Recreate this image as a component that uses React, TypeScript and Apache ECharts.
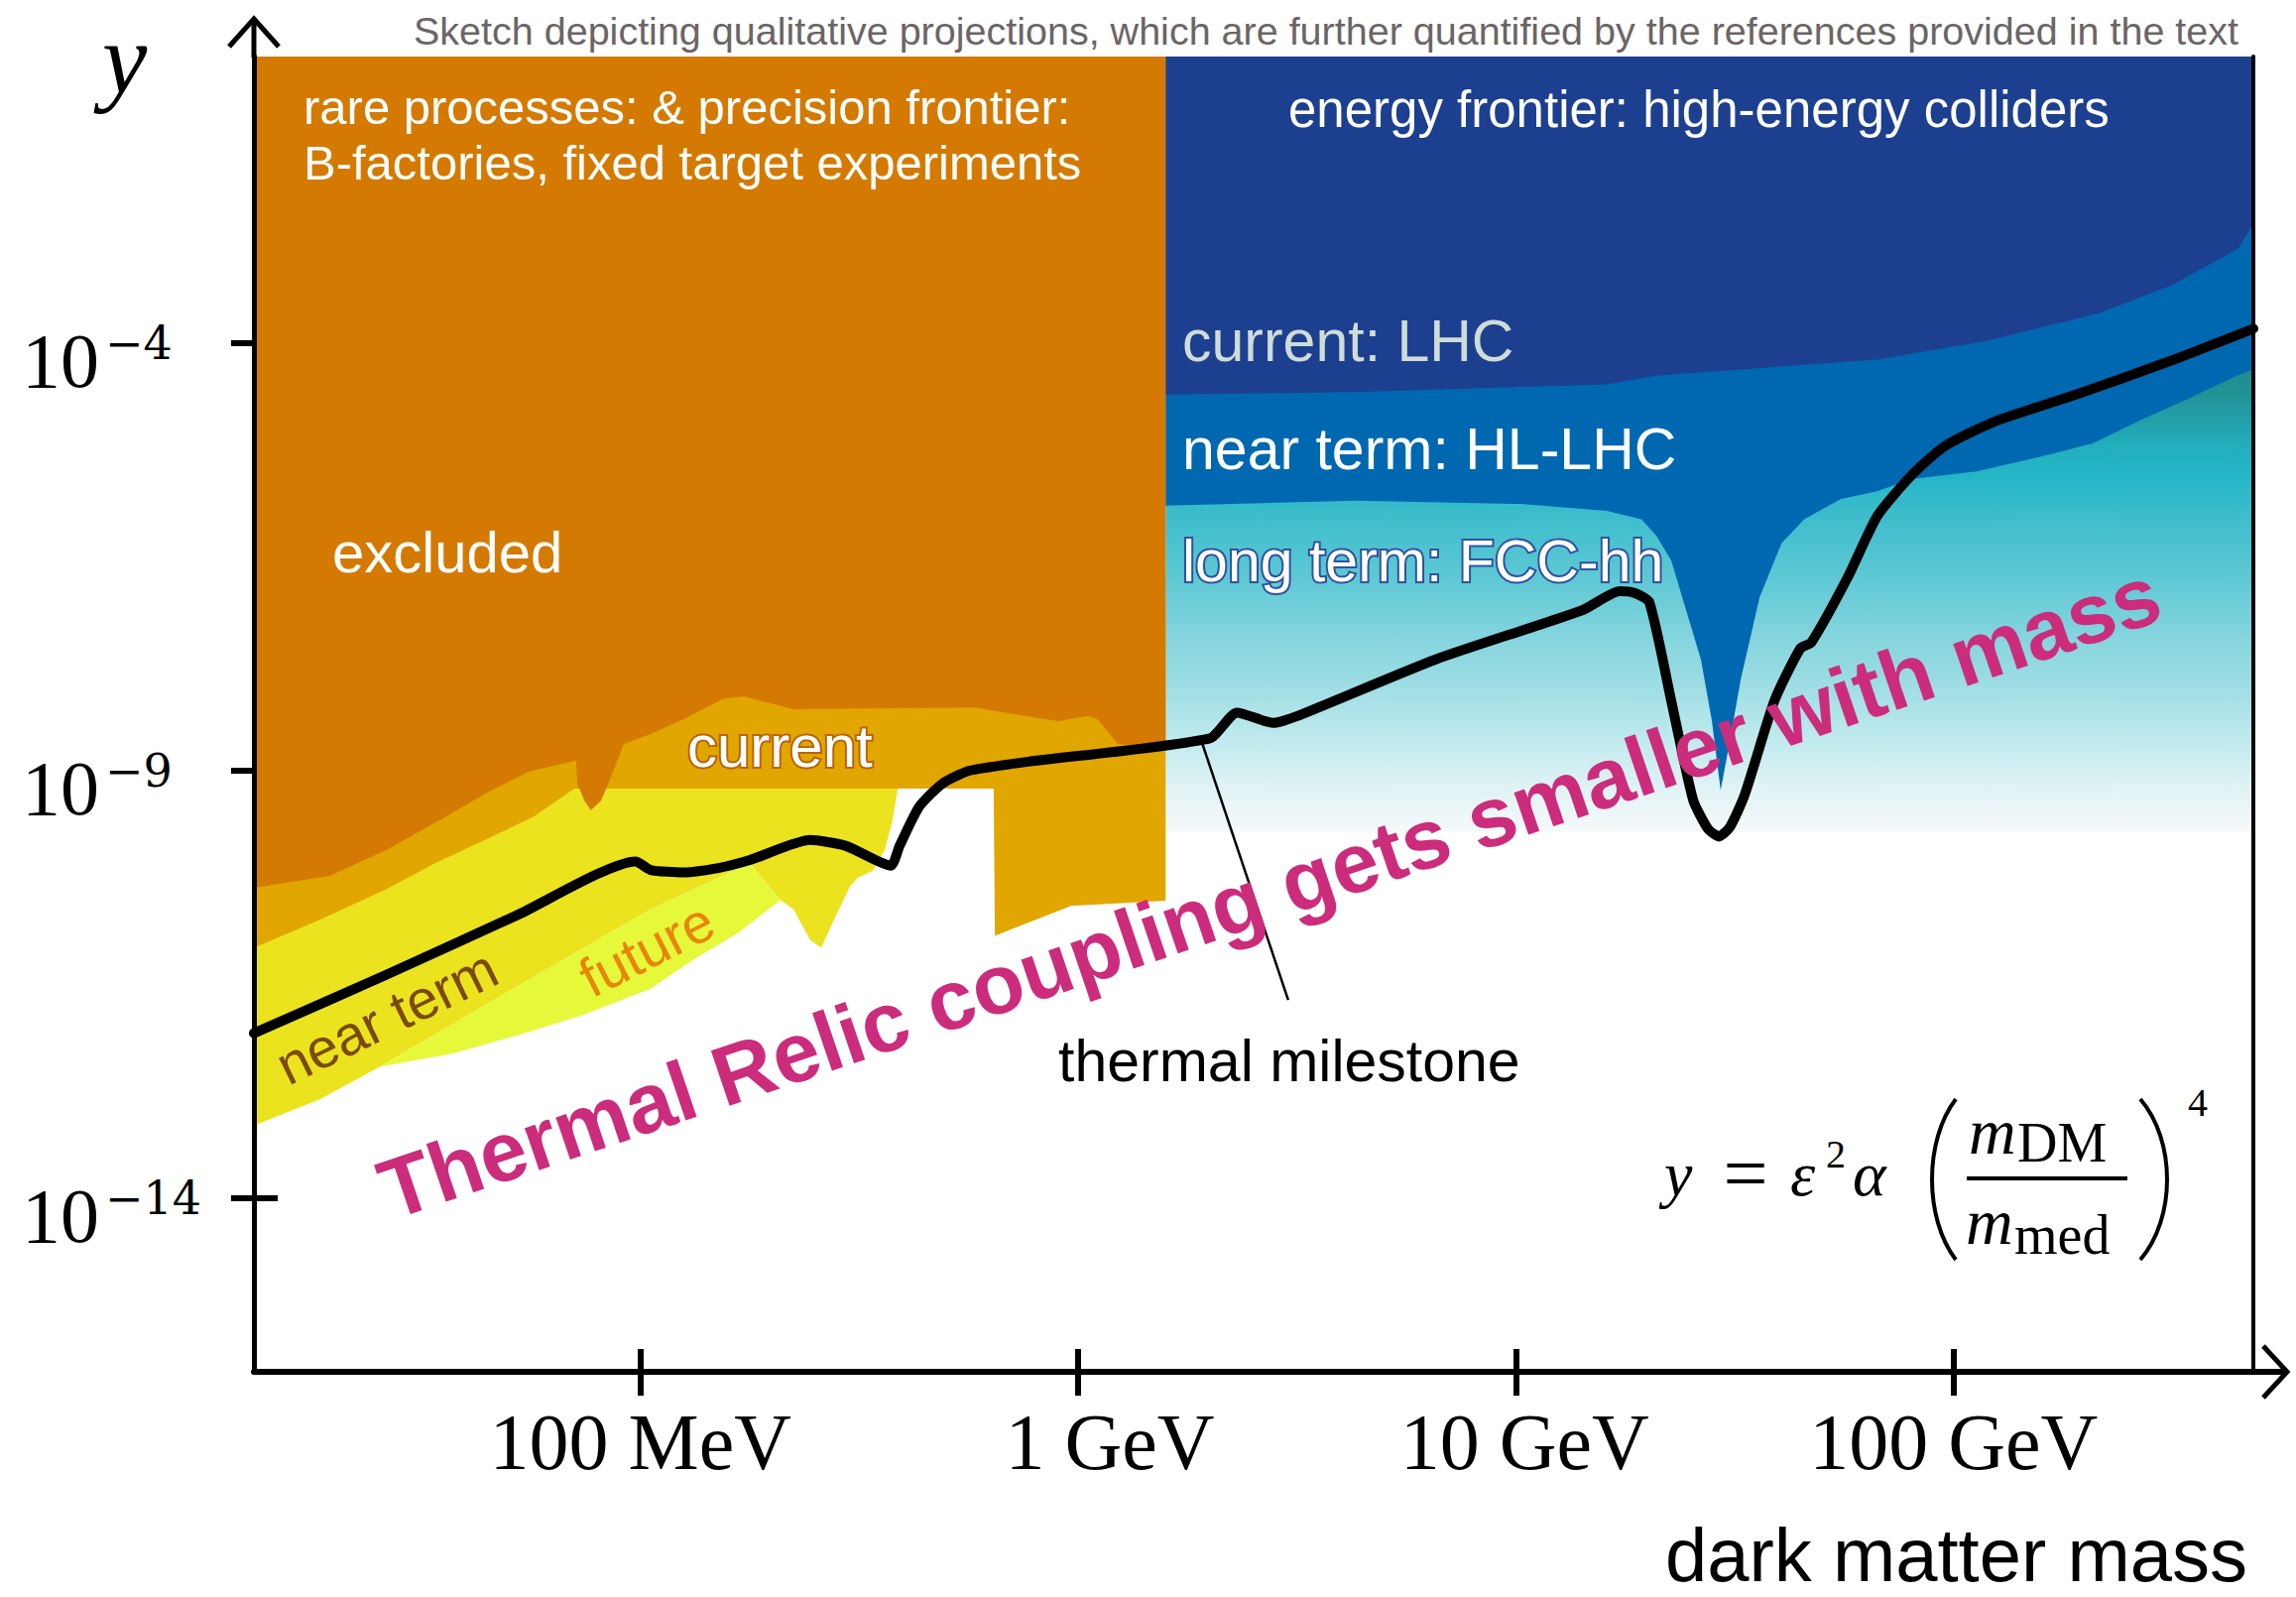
import React, { useEffect, useRef } from 'react';
import * as echarts from 'echarts';

// Coordinates: x = log10(dark matter mass / GeV), y = log10(y)
const xRange = [-1.883, 2.685];
const yRange = [-16.03, -0.647];
const xTickValues = [-1, 0, 1, 2];
const xTickLabels = ['100 MeV', '1 GeV', '10 GeV', '100 GeV'];
const yTickValues = [-14, -9, -4];

const excludedRegion: number[][] = [
  [-1.883, -0.647], [0.2, -0.647], [0.2, -8.72], [0.091, -8.69], [0.045, -8.4], [0.023, -8.36],
  [-0.045, -8.42], [-0.122, -8.36], [-0.236, -8.26], [-0.65, -8.28], [-0.764, -8.13], [-0.811, -8.16],
  [-0.902, -8.4], [-0.977, -8.57], [-1.038, -8.69], [-1.067, -9.07], [-1.09, -9.35], [-1.113, -9.46],
  [-1.128, -9.35], [-1.144, -9.15], [-1.147, -8.88], [-1.255, -9.01], [-1.355, -9.27], [-1.459, -9.58],
  [-1.582, -9.93], [-1.709, -10.23], [-1.883, -10.37],
];

const currentRegion: number[][] = [
  [-1.883, -6.95], [0.2, -6.95], [0.2, -10.52], [-0.016, -10.58], [-0.19, -10.93], [-0.193, -9.21],
  [-1.151, -9.21], [-1.242, -9.53], [-1.355, -9.81], [-1.468, -10.08], [-1.582, -10.39],
  [-1.731, -10.74], [-1.883, -11.07],
];

const nearTermRegion: number[][] = [
  [-1.883, -8.11], [-0.412, -8.11], [-0.412, -9.21], [-0.424, -9.58], [-0.442, -9.93], [-0.469, -10.17],
  [-0.503, -10.25], [-0.521, -10.35], [-0.553, -10.69], [-0.587, -11.07], [-0.612, -10.98],
  [-0.65, -10.62], [-0.68, -10.51], [-0.75, -10.08], [-0.977, -10.62], [-1.278, -11.51],
  [-1.595, -12.46], [-1.731, -12.84], [-1.883, -13.15],
];

const futureRegion: number[][] = [
  [-1.595, -12.46], [-1.43, -12.31], [-1.278, -12.09], [-1.128, -11.85], [-0.977, -11.55],
  [-0.877, -11.2], [-0.775, -10.89], [-0.68, -10.51], [-0.75, -10.08], [-0.977, -10.62], [-1.278, -11.51],
];

const fccRegion: number[][] = [[0.2, -0.647], [2.685, -0.647], [2.685, -9.73], [0.2, -9.73]];

const hlLhcRegion: number[][] = [
  [0.2, -0.647], [2.685, -0.647], [2.685, -4.3], [2.642, -4.39], [2.545, -4.63], [2.431, -4.89],
  [2.318, -5.17], [2.205, -5.32], [2.053, -5.5], [1.903, -5.59], [1.826, -5.73], [1.743, -5.82],
  [1.659, -6.06], [1.607, -6.34], [1.557, -6.97], [1.514, -7.93], [1.489, -8.65], [1.468, -9.23],
  [1.448, -8.42], [1.423, -7.7], [1.389, -7.12], [1.355, -6.54], [1.321, -6.25], [1.287, -6.06],
  [1.208, -5.96], [1.011, -5.88], [0.634, -5.84], [0.2, -5.9],
];

const lhcRegion: number[][] = [
  [0.2, -0.647], [2.685, -0.647], [2.685, -2.6], [2.651, -2.89], [2.601, -3.03], [2.499, -3.32],
  [2.332, -3.65], [2.078, -3.97], [1.826, -4.19], [1.321, -4.38], [1.208, -4.48], [1.011, -4.51],
  [0.634, -4.57], [0.2, -4.6],
];

const thermalMilestone: number[][] = [
  [-1.883, -12.07], [-1.582, -11.39], [-1.278, -10.68], [-1.011, -10.06], [-0.977, -10.16],
  [-0.902, -10.19], [-0.825, -10.14], [-0.748, -10.04], [-0.612, -9.81], [-0.53, -9.88],
  [-0.428, -10.11], [-0.408, -9.88], [-0.363, -9.42], [-0.31, -9.15], [-0.249, -9.0], [-0.122, -8.9],
  [0.301, -8.62], [0.363, -8.32], [0.446, -8.44], [0.496, -8.37], [0.816, -7.7], [1.153, -7.12],
  [1.237, -6.9], [1.271, -6.92], [1.305, -7.03], [1.355, -8.18], [1.405, -9.34], [1.439, -9.68],
  [1.464, -9.77], [1.489, -9.66], [1.523, -9.28], [1.591, -8.18], [1.65, -7.57], [1.675, -7.5],
  [1.758, -6.74], [1.826, -6.02], [1.903, -5.55], [1.978, -5.21], [2.092, -4.92], [2.28, -4.6],
  [2.499, -4.2], [2.685, -3.83],
];

const milestonePointer: number[][] = [[0.281, -8.64], [0.48, -11.68]];

const SANS = 'Liberation Sans, Arial, Helvetica, sans-serif';
const SERIF = 'Liberation Serif, Times New Roman, serif';

function polygonSeries(name: string, pts: number[][], fill: any) {
  return {
    type: 'custom',
    name,
    silent: true,
    coordinateSystem: 'cartesian2d',
    data: pts,
    renderItem: (params: any, api: any) => {
      if (params.dataIndex !== 0) return null;
      return {
        type: 'polygon',
        shape: { points: pts.map((p) => api.coord(p)) },
        style: { fill },
      };
    },
  };
}

function txt(text: string, x: number, y: number, size: number, fill: string, o: any = {}) {
  return {
    type: 'text',
    x,
    y,
    z: 50,
    silent: true,
    rotation: o.rot ? (o.rot * Math.PI) / 180 : 0,
    style: {
      text,
      fill,
      fontSize: size,
      lineHeight: o.lh || size,
      fontFamily: o.family || SANS,
      fontWeight: o.weight || 'normal',
      fontStyle: o.italic ? 'italic' : 'normal',
      align: o.align || 'left',
      verticalAlign: 'middle',
      stroke: o.stroke,
      lineWidth: o.lw || 0,
    },
  };
}

export default function App() {
  const ref = useRef<HTMLDivElement>(null);
  useEffect(() => {
    if (!ref.current) return;
    const chart = echarts.init(ref.current, undefined, { renderer: 'svg' });
    const gradient = new echarts.graphic.LinearGradient(0, 0, 0, 1, [
      { offset: 0, color: '#1b6f80' },
      { offset: 0.361, color: '#1d7f87' },
      { offset: 0.438, color: '#219497' },
      { offset: 0.502, color: '#22aebd' },
      { offset: 0.54, color: '#24b6c7' },
      { offset: 0.587, color: '#3cbccb' },
      { offset: 0.668, color: '#5cc8d4' },
      { offset: 0.757, color: '#89d6df' },
      { offset: 0.796, color: '#97dbe2' },
      { offset: 0.881, color: '#c0eaee' },
      { offset: 0.945, color: '#e2f3f5' },
      { offset: 0.996, color: '#f5f9fa' },
      { offset: 1, color: '#ffffff' },
    ]);

    const xLabelFmt = (v: number) => {
      const r = Math.round(v);
      const lbl = xTickLabels[xTickValues.indexOf(r)];
      if (r === 0) return `{p1|${lbl}}`;
      if (r === 1) return `{p2|${lbl}}`;
      return `{a|${lbl}}`;
    };
    const xRichBase = { fontFamily: SERIF, fontSize: 80, lineHeight: 80, color: '#000' };

    const option: any = {
      animation: false,
      backgroundColor: '#ffffff',
      grid: { left: 256, right: 43, top: 57, bottom: 227 },
      xAxis: [
        {
          type: 'value',
          position: 'bottom',
          min: xRange[0],
          max: xRange[1],
          z: 10,
          splitLine: { show: false },
          axisLine: { show: true, onZero: false, lineStyle: { color: '#000', width: 6 } },
          axisTick: { show: true, customValues: xTickValues, length: 24, lineStyle: { color: '#000', width: 6 } },
          axisLabel: {
            show: true,
            customValues: xTickValues,
            margin: 31,
            formatter: xLabelFmt,
            rich: {
              a: { ...xRichBase },
              p1: { ...xRichBase, padding: [0, 0, 0, 64] },
              p2: { ...xRichBase, padding: [0, 0, 0, 18] },
            },
          },
        },
        {
          type: 'value',
          position: 'bottom',
          min: xRange[0],
          max: xRange[1],
          z: 10,
          splitLine: { show: false },
          axisLine: { show: false, onZero: false },
          axisTick: { show: true, inside: true, customValues: xTickValues, length: 23, lineStyle: { color: '#000', width: 6 } },
          axisLabel: { show: false },
        },
      ],
      yAxis: [
        {
          type: 'value',
          position: 'left',
          min: yRange[0],
          max: yRange[1],
          z: 10,
          splitLine: { show: false },
          axisLine: { show: true, onZero: false, lineStyle: { color: '#000', width: 5 } },
          axisTick: { show: true, customValues: yTickValues, length: 23, lineStyle: { color: '#000', width: 6 } },
          axisLabel: {
            show: true,
            customValues: yTickValues,
            align: 'left',
            margin: 234,
            padding: [34, 0, 0, 0],
            formatter: (v: number) => `{b|10}{e|\u2212${Math.abs(Math.round(v))}}`,
            rich: {
              b: { fontFamily: SERIF, fontSize: 78, lineHeight: 80, color: '#000' },
              e: { fontFamily: 'DejaVu Serif, serif', fontSize: 46, lineHeight: 30, verticalAlign: 'top', padding: [0, 0, 0, 6], color: '#000' },
            },
          },
        },
        {
          type: 'value',
          position: 'left',
          min: yRange[0],
          max: yRange[1],
          z: 0,
          splitLine: { show: false },
          axisLine: { show: false, onZero: false },
          axisTick: { show: true, inside: true, customValues: yTickValues, length: 24, lineStyle: { color: '#000', width: 6 } },
          axisLabel: { show: false },
        },
        {
          type: 'value',
          position: 'right',
          min: yRange[0],
          max: yRange[1],
          z: 10,
          splitLine: { show: false },
          axisLine: { show: true, onZero: false, lineStyle: { color: '#000', width: 4 } },
          axisTick: { show: false },
          axisLabel: { show: false },
        },
      ],
      series: [
        polygonSeries('long term: FCC-hh', fccRegion, gradient),
        polygonSeries('near term: HL-LHC', hlLhcRegion, '#0068b0'),
        polygonSeries('current: LHC', lhcRegion, '#1d3f8f'),
        polygonSeries('near term', nearTermRegion, '#ebe31e'),
        polygonSeries('future', futureRegion, '#e6f83a'),
        polygonSeries('current', currentRegion, '#e1a600'),
        polygonSeries('excluded', excludedRegion, '#d47a03'),
        {
          type: 'line',
          name: 'pointer',
          data: milestonePointer,
          symbol: 'none',
          silent: true,
          z: 4,
          lineStyle: { color: '#000', width: 2.5 },
        },
        {
          type: 'line',
          name: 'thermal milestone',
          data: thermalMilestone,
          symbol: 'none',
          smooth: 0.2,
          silent: true,
          z: 5,
          lineStyle: { color: '#000', width: 10, cap: 'round', join: 'round' },
        },
      ],
      graphic: [
        // axis extensions and arrow heads
        { type: 'polyline', z: 40, silent: true, shape: { points: [[256, 58], [256, 20]] }, style: { stroke: '#000', lineWidth: 5, fill: null } },
        { type: 'polyline', z: 40, silent: true, shape: { points: [[231, 47], [256, 19], [281, 47]] }, style: { stroke: '#000', lineWidth: 5, fill: null } },
        { type: 'polyline', z: 40, silent: true, shape: { points: [[2271, 1383], [2304, 1383]] }, style: { stroke: '#000', lineWidth: 6, fill: null } },
        { type: 'polyline', z: 40, silent: true, shape: { points: [[2282, 1357], [2306, 1383], [2282, 1409]] }, style: { stroke: '#000', lineWidth: 5, fill: null } },
        // texts
        txt('Sketch depicting qualitative projections, which are further quantified by the references provided in the text', 2257, 31, 39.5, '#6b6565', { align: 'right', lh: 40 }),
        txt('y', 103, 58, 102, '#000', { family: SERIF, italic: true, lh: 96 }),
        txt('rare processes: & precision frontier:\nB-factories, fixed target experiments', 306, 136, 49, '#ffffff', { lh: 56 }),
        txt('energy frontier: high-energy colliders', 1299, 110, 51, '#ffffff'),
        txt('current: LHC', 1192, 344, 59, '#cfdcd8'),
        txt('near term: HL-LHC', 1192, 453, 59, '#ffffff'),
        txt('long term: FCC-hh', 1192, 566, 59, '#ffffff', { stroke: '#2f52a0', lw: 4 }),
        txt('excluded', 335, 556, 58, '#ffffff'),
        txt('current', 693, 752, 60, '#ffffff', { stroke: '#b8650a', lw: 4 }),
        txt('near term', 390, 1025, 56, '#7b4a07', { align: 'center', rot: 26 }),
        txt('future', 652, 957, 56, '#e8850b', { align: 'center', rot: 27 }),
        txt('thermal milestone', 1067, 1070, 59, '#000'),
        txt('Thermal Relic coupling gets smaller with mass', 1280, 899, 85, '#cc2c7c', { align: 'center', rot: 18.7, weight: 'bold' }),
        txt('dark matter mass', 2266, 1567, 76, '#000', { align: 'right', lh: 58 }),
        // formula
        txt('y', 1678, 1183, 64, '#000', { family: SERIF, italic: true }),
        txt('=', 1760, 1183, 80, '#000', { family: SERIF, align: 'center', lh: 64 }),
        txt('\u03b5', 1805, 1183, 64, '#000', { family: SERIF, italic: true }),
        txt('2', 1841, 1163, 40, '#000', { family: SERIF }),
        txt('\u03b1', 1868, 1183, 64, '#000', { family: SERIF, italic: true }),
        { type: 'bezierCurve', z: 50, silent: true, shape: { x1: 1972, y1: 1108, cpx1: 1940, cpy1: 1150, cpx2: 1940, cpy2: 1228, x2: 1972, y2: 1270 }, style: { stroke: '#000', lineWidth: 4, fill: null } },
        { type: 'bezierCurve', z: 50, silent: true, shape: { x1: 2158, y1: 1108, cpx1: 2194, cpy1: 1150, cpx2: 2194, cpy2: 1228, x2: 2158, y2: 1270 }, style: { stroke: '#000', lineWidth: 4, fill: null } },
        txt('m', 1985, 1140, 66, '#000', { family: SERIF, italic: true }),
        txt('DM', 2034, 1152, 56, '#000', { family: SERIF }),
        { type: 'line', z: 50, silent: true, shape: { x1: 1983, y1: 1188, x2: 2145, y2: 1188 }, style: { stroke: '#000', lineWidth: 4 } },
        txt('m', 1982, 1231, 66, '#000', { family: SERIF, italic: true }),
        txt('med', 2031, 1245, 56, '#000', { family: SERIF }),
        txt('4', 2206, 1111, 40, '#000', { family: SERIF }),
      ],
    };
    chart.setOption(option);
    return () => {
      chart.dispose();
    };
  }, []);
  return <div ref={ref} style={{ position: 'absolute', left: 0, top: 0, width: 2315, height: 1610 }} />;
}
